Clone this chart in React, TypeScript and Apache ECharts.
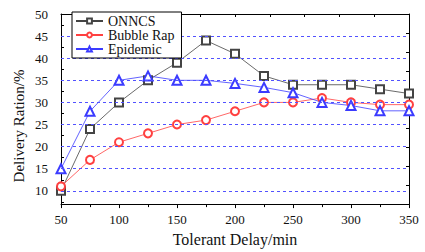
import React, { useEffect, useRef } from "react";
import * as echarts from "echarts";

const delays = [50, 75, 100, 125, 150, 175, 200, 225, 250, 275, 300, 325, 350];
const onncs = [10, 24, 30, 35, 39, 44, 41, 36, 34, 34, 34, 33, 32];
const bubbleRap = [11, 17, 21, 23, 25, 26, 28, 30, 30, 31, 30, 29.5, 29.5];
const epidemic = [15, 28, 35, 36, 35, 35, 34.3, 33.4, 32.2, 30, 29.3, 28.1, 28.1];
const yTickLabels = [10, 15, 20, 25, 30, 35, 40, 45, 50];
const yTickMarks = [7.5, 10, 12.5, 15, 17.5, 20, 22.5, 25, 27.5, 30, 32.5, 35, 37.5, 40, 42.5, 45, 47.5, 50];
const yGrid = [10, 15, 20, 25, 30, 35, 40, 45];

const FONT = "'Liberation Serif', 'Times New Roman', serif";

export default function App() {
  const ref = useRef<HTMLDivElement>(null);
  useEffect(() => {
    const chart = echarts.init(ref.current!, null, { renderer: "svg" });
    const pair = (vals: number[]) => delays.map((d, i) => [d, vals[i]]);
    const frameAxis = {
      type: "value",
      min: 0,
      max: 10,
      interval: 1,
      axisLine: { show: true, lineStyle: { color: "#000", width: 1 } },
      axisTick: { show: true, inside: true, length: 3, lineStyle: { color: "#000" } },
      axisLabel: { show: false },
      splitLine: { show: false },
    };
    const txt = { fontFamily: FONT, fontWeight: "normal" as const, color: "#111" };
    chart.setOption({
      animation: false,
      backgroundColor: "#fff",
      textStyle: { fontFamily: FONT, fontWeight: "normal" },
      grid: { left: 61, right: 16, top: 14, bottom: 40, show: false },
      legend: {
        orient: "vertical",
        left: 72,
        top: 12,
        backgroundColor: "#fff",
        borderColor: "#000",
        borderWidth: 1,
        borderRadius: 0,
        padding: [2, 7, 2, 3],
        itemGap: 0,
        itemWidth: 27,
        itemHeight: 6,
        z: 10,
        textStyle: { ...txt, fontSize: 14, padding: [0, 0, 0, 0] },
        data: ["ONNCS", "Bubble Rap", "Epidemic"],
      },
      graphic: [
        {
          type: "text",
          x: 19,
          y: 126,
          rotation: Math.PI / 2,
          style: {
            text: "Delivery Ration/%",
            fontFamily: FONT,
            fontWeight: "normal",
            fontSize: 15,
            fill: "#111",
            align: "center",
            verticalAlign: "middle",
          },
        },
      ],
      xAxis: [
        {
          type: "value",
          min: 50,
          max: 350,
          interval: 50,
          name: "Tolerant Delay/min",
          nameLocation: "middle",
          nameGap: 21,
          nameTextStyle: { ...txt, fontSize: 16 },
          axisLine: { lineStyle: { color: "#000" } },
          axisTick: { inside: false, length: 4, lineStyle: { color: "#000" } },
          minorTick: { show: true, splitNumber: 2, length: 3, lineStyle: { color: "#000" } },
          axisLabel: { ...txt, fontSize: 13, margin: 9 },
          splitLine: { show: false },
        },
        { ...frameAxis, position: "top" },
      ],
      yAxis: [
        {
          type: "value",
          min: 7,
          max: 50,
          axisLine: { show: true, lineStyle: { color: "#000" } },
          axisTick: { inside: true, length: 3, customValues: yTickMarks, lineStyle: { color: "#000" } },
          axisLabel: { ...txt, fontSize: 13, margin: 13, customValues: yTickLabels },
          splitLine: { show: false },
        },
        { ...frameAxis, position: "right" },
      ],
      series: [
        {
          name: "ONNCS",
          type: "line",
          data: pair(onncs),
          symbol: "emptyRect",
          symbolSize: 8,
          color: "#444",
          lineStyle: { width: 0.8, color: "#444" },
          itemStyle: { color: "#444", borderColor: "#444", borderWidth: 0.8 },
          markLine: {
            silent: true,
            symbol: "none",
            label: { show: false },
            lineStyle: { color: "#5252ff", type: [3, 3], width: 1 },
            data: yGrid.map((v) => ({ yAxis: v })),
          },
          z: 3,
        },
        {
          name: "Bubble Rap",
          type: "line",
          data: pair(bubbleRap),
          symbol: "emptyCircle",
          symbolSize: 8,
          color: "#ff4040",
          lineStyle: { width: 0.8, color: "#ff4040" },
          itemStyle: { color: "#ff4040", borderColor: "#ff4040", borderWidth: 0.8 },
          z: 3,
        },
        {
          name: "Epidemic",
          type: "line",
          data: pair(epidemic),
          symbol: "emptyTriangle",
          symbolSize: 9,
          color: "#3b3bff",
          lineStyle: { width: 0.8, color: "#3b3bff" },
          itemStyle: { color: "#3b3bff", borderColor: "#3b3bff", borderWidth: 0.8 },
          z: 3,
        },
      ],
    });
    return () => chart.dispose();
  }, []);
  return (
    <div
      ref={ref}
      style={{ position: "fixed", left: 0, top: 0, width: 425, height: 252 }}
    />
  );
}
